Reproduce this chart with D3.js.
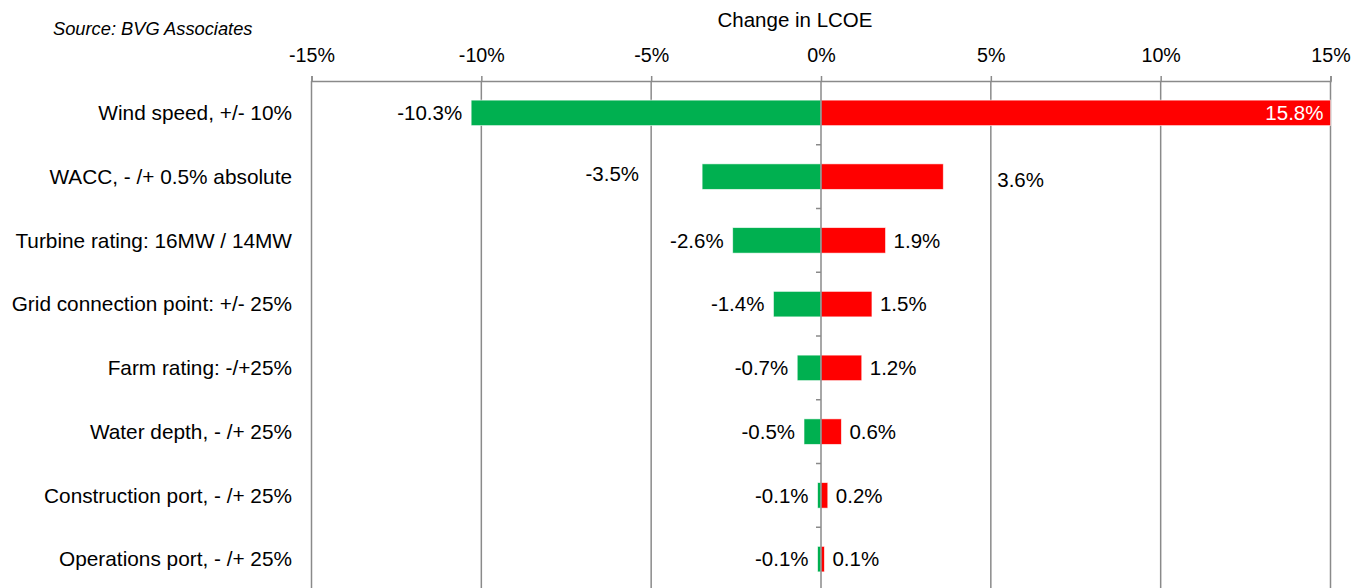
<!DOCTYPE html>
<html>
<head>
<meta charset="utf-8">
<script src="https://cdn.jsdelivr.net/npm/d3@7"></script>
<style>
  html, body { margin: 0; padding: 0; background: #ffffff; }
  svg { display: block; font-family: Arial, "Liberation Sans", Helvetica, sans-serif; }
</style>
</head>
<body>
<svg id="chart" width="1365" height="588"></svg>
<script>
// Sensitivity of LCOE to each input parameter
const categories = [
  "Wind speed, +/- 10%",
  "WACC, - /+ 0.5% absolute",
  "Turbine rating: 16MW / 14MW",
  "Grid connection point: +/- 25%",
  "Farm rating: -/+25%",
  "Water depth, - /+ 25%",
  "Construction port, - /+ 25%",
  "Operations port, - /+ 25%"
];
const decreaseValues = [-10.3, -3.5, -2.6, -1.4, -0.7, -0.5, -0.1, -0.1];
const increaseValues = [15.8, 3.6, 1.9, 1.5, 1.2, 0.6, 0.2, 0.1];
const tickValues = [-15, -10, -5, 0, 5, 10, 15];
const tickLabels = ["-15%", "-10%", "-5%", "0%", "5%", "10%", "15%"];
const axisTitle = "Change in LCOE";
const sourceNote = "Source: BVG Associates";

const svg = d3.select("#chart");
const GREEN = "#00b050", RED = "#ff0000", GRID = "#8a8a8a";
const plotTop = 81, plotBottom = 591;

const x = d3.scaleLinear().domain([-15, 15]).range([311.5, 1330.5]);
const y = d3.scaleBand().domain(categories).range([plotTop, plotBottom])
  .paddingInner(0.6).paddingOuter(0.3);

const rows = categories.map((c, i) => ({ cat: c, lo: decreaseValues[i], hi: increaseValues[i] }));

// value labels for the WACC row sit further out from the bars
const labelShift = { "WACC, - /+ 0.5% absolute": { lo: [-54, -3], hi: [46, 3.5] } };

// top axis
const axisG = svg.append("g").attr("transform", `translate(0,${plotTop})`)
  .call(d3.axisTop(x).tickValues(tickValues)
    .tickFormat((d, i) => tickLabels[i]).tickSize(5).tickPadding(14));
axisG.select(".domain").attr("stroke", GRID).attr("stroke-width", 1.5);
axisG.selectAll(".tick line").attr("stroke", GRID).attr("stroke-width", 1.5);
axisG.selectAll(".tick text").attr("fill", "#000").style("font-size", "19.7px")
  .style("font-family", "Arial, 'Liberation Sans', sans-serif");

// vertical gridlines
svg.append("g").selectAll("line").data(tickValues.filter(v => v !== 0)).join("line")
  .attr("x1", d => x(d)).attr("x2", d => x(d))
  .attr("y1", plotTop).attr("y2", plotBottom)
  .attr("stroke", GRID).attr("stroke-width", 1.5);

// bars
const bars = svg.append("g");
bars.selectAll("rect.lo").data(rows).join("rect").attr("class", "lo")
  .attr("x", d => x(d.lo)).attr("width", d => x(0) - x(d.lo))
  .attr("y", d => y(d.cat)).attr("height", y.bandwidth())
  .attr("fill", GREEN).attr("stroke", "rgba(255,255,255,0.7)").attr("stroke-width", 0.8);
bars.selectAll("rect.hi").data(rows).join("rect").attr("class", "hi")
  .attr("x", x(0)).attr("width", d => x(Math.min(d.hi, 15)) - x(0))
  .attr("y", d => y(d.cat)).attr("height", y.bandwidth())
  .attr("fill", RED).attr("stroke", "rgba(255,255,255,0.7)").attr("stroke-width", 0.8);

// zero line with category separators
const zero = svg.append("g");
zero.append("line").attr("x1", x(0)).attr("x2", x(0)).attr("y1", plotTop).attr("y2", plotBottom)
  .attr("stroke", GRID).attr("stroke-width", 1.5);
const step = y.step();
const sepY = d => y(d) - y.paddingInner() * step / 2;
zero.selectAll("line.sep").data(categories.slice(1)).join("line").attr("class", "sep")
  .attr("x1", x(0) - 5).attr("x2", x(0))
  .attr("y1", sepY).attr("y2", sepY)
  .attr("stroke", GRID).attr("stroke-width", 1.5);

// category labels
svg.append("g").selectAll("text").data(categories).join("text")
  .attr("x", 292).attr("y", d => y(d) + y.bandwidth() / 2).attr("dy", "0.35em")
  .attr("text-anchor", "end").style("font-size", "20.8px").attr("fill", "#000")
  .text(d => d);

// value labels
const fmt = v => v.toFixed(1) + "%";
const vl = svg.append("g").style("font-size", "20.5px");
vl.selectAll("text.lo").data(rows).join("text").attr("class", "lo")
  .attr("x", d => x(d.lo) - 9 + (labelShift[d.cat] ? labelShift[d.cat].lo[0] : 0))
  .attr("y", d => y(d.cat) + y.bandwidth() / 2 + (labelShift[d.cat] ? labelShift[d.cat].lo[1] : 0))
  .attr("dy", "0.35em").attr("text-anchor", "end").attr("fill", "#000")
  .text(d => fmt(d.lo));
vl.selectAll("text.hi").data(rows).join("text").attr("class", "hi")
  .attr("x", d => d.hi > 15 ? x(15) - 7 : x(d.hi) + 8 + (labelShift[d.cat] ? labelShift[d.cat].hi[0] : 0))
  .attr("y", d => y(d.cat) + y.bandwidth() / 2 + (labelShift[d.cat] ? labelShift[d.cat].hi[1] : 0))
  .attr("dy", "0.35em").attr("text-anchor", d => d.hi > 15 ? "end" : "start")
  .attr("fill", d => d.hi > 15 ? "#fff" : "#000")
  .text(d => fmt(d.hi));

// axis title and source
svg.append("text").attr("x", 795).attr("y", 27).attr("text-anchor", "middle")
  .style("font-size", "20.5px").attr("fill", "#000").text(axisTitle);
svg.append("text").attr("x", 53).attr("y", 35).style("font-size", "18.3px")
  .style("font-style", "italic").attr("fill", "#000").text(sourceNote);
</script>
</body>
</html>
